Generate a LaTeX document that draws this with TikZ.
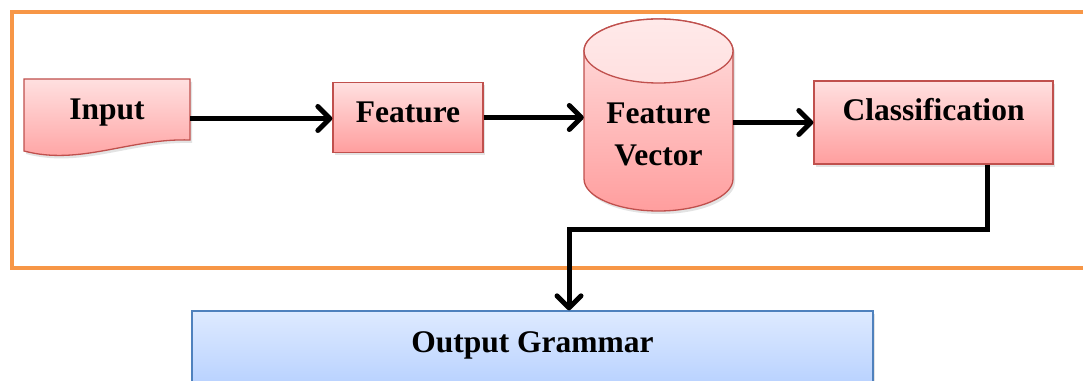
\documentclass[tikz,border=0pt]{standalone}
\usepackage{fontspec}
\setmainfont{Liberation Serif}
\usetikzlibrary{arrows.meta,shadows}
\definecolor{frameor}{RGB}{247,150,70}
\definecolor{pinktop}{RGB}{255,224,224}
\definecolor{pinkbot}{RGB}{255,158,158}
\definecolor{pinkedge}{RGB}{192,80,77}
\definecolor{bluetop}{RGB}{222,234,255}
\definecolor{bluebot}{RGB}{166,198,255}
\definecolor{blueedge}{RGB}{79,129,189}
\tikzset{
  lbl/.style={font=\bfseries\fontsize{31.5}{41.7}\selectfont, text=black},
  shade/.style={drop shadow={opacity=0.22, shadow xshift=2pt, shadow yshift=-3pt}},
  pinkbox/.style={draw=pinkedge, line width=1.3pt, top color=pinktop, bottom color=pinkbot, shade, rectangle, inner sep=0pt, lbl},
  bluebox/.style={draw=blueedge, line width=1.3pt, top color=bluetop, bottom color=bluebot, shade, rectangle, inner sep=0pt, lbl},
  ghost/.style={rectangle, draw=none, inner sep=0pt},
  arr/.style={line width=5pt, -{Straight Barb[length=12pt,width=24pt,line width=5pt,line cap=round,line join=round]}},
  conn/.style={line width=5pt, line join=miter}
}
\begin{document}
\begin{tikzpicture}[x=1pt,y=1pt]
\clip (0,0) rectangle (1083,380);
\fill[white] (0,0) rectangle (1083,380);
% frame
\draw[frameor, line width=4pt] (1095,367.5) -- (11.5,367.5) -- (11.5,111.5) -- (1095,111.5);

% Input (document shape)
\path[draw=pinkedge, line width=1.3pt, top color=pinktop, bottom color=pinkbot, shade]
  (24,301) -- (190,301) -- (190,240) .. controls (130,242) and (80,214) .. (24,229) -- cycle;
\node[ghost, minimum width=166pt, minimum height=79pt] (Input) at (107,261.5) {};
\node[lbl, anchor=base] at (107,260.5) {Input};

% Feature
\node[pinkbox, minimum width=150pt, minimum height=70pt, text height=21pt, text depth=10.6pt] (Feature) at (408,262.5) {Feature};

% Feature Vector cylinder
\path[draw=pinkedge, line width=1.3pt, top color=pinktop, bottom color=pinkbot, shade]
  (584,329) -- (584,201) arc[start angle=180, end angle=360, x radius=74.5, y radius=32]
  -- (733,329) arc[start angle=0, end angle=180, x radius=74.5, y radius=32] -- cycle;
\draw[pinkedge, line width=1.3pt, top color=pinktop!70!white, bottom color=pinktop] (658.5,329) ellipse[x radius=74.5, y radius=32];
\node[ghost, minimum width=149pt, minimum height=192pt] (FV) at (658.5,265) {};
\node[lbl, align=center] at (658.5,245.7) {Feature\\Vector};

% Classification
\node[pinkbox, minimum width=239pt, minimum height=83pt, text height=21pt, text depth=24.6pt] (Cls) at (933.5,257.5) {Classification};

% Output Grammar
\node[bluebox, minimum width=681pt, minimum height=110pt, text height=21pt, text depth=48.4pt] (Out) at (532.5,14) {Output Grammar};

% connectors
\coordinate (ex) at (987,0);
\coordinate (j) at (569,150);
\draw[arr] (Input.east) -- (Input.east -| Feature.west);
\draw[arr] (Feature.east) -- (Feature.east -| FV.west);
\draw[arr] (FV.east |- Cls.west) -- (Cls.west);
\draw[conn] (Cls.south -| ex) |- (j);
\draw[arr] ([yshift=2.5pt]j) -- (j |- Out.north);
\end{tikzpicture}
\end{document}
